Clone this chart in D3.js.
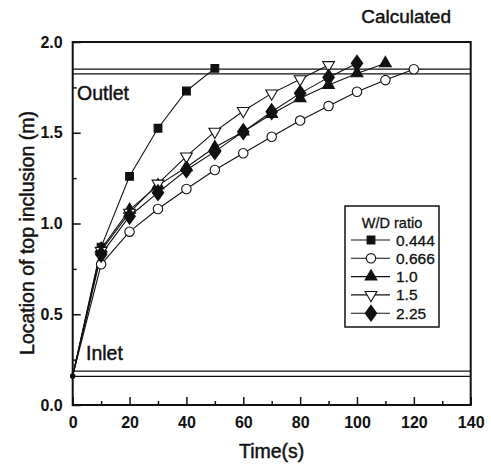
<!DOCTYPE html>
<html>
<head>
<meta charset="utf-8">
<script src="https://cdn.jsdelivr.net/npm/d3@7"></script>
<style>
  body { margin: 0; background: #fff; }
  text { font-family: "Liberation Sans", Arial, sans-serif; fill: #111; }
</style>
</head>
<body>
<div id="container"></div>
<script>
let w = 491;
let h = 466;
let margin = {left: 72.7, right: 20.3, top: 42, bottom: 61};

// data
let times = [0, 10, 20, 30, 40, 50, 60, 70, 80, 90, 100, 110, 120];
let ratios = ["0.444", "0.666", "1.0", "1.5", "2.25"];
let symbols = ["square", "circle", "triangle", "triangleDown", "diamond"];
let loc0444 = [0.16, 0.87, 1.26, 1.525, 1.73, 1.855];
let loc0666 = [0.16, 0.775, 0.955, 1.08, 1.19, 1.295, 1.387, 1.478, 1.567, 1.647, 1.726, 1.79, 1.85];
let loc10   = [0.16, 0.86, 1.075, 1.21, 1.31, 1.42, 1.506, 1.603, 1.69, 1.763, 1.827, 1.883];
let loc15   = [0.16, 0.85, 1.06, 1.22, 1.37, 1.506, 1.62, 1.717, 1.795, 1.873];
let loc225  = [0.16, 0.83, 1.04, 1.17, 1.295, 1.396, 1.506, 1.616, 1.717, 1.805, 1.883];
let allSeries = [loc0444, loc0666, loc10, loc15, loc225];
let outletLines = [1.851, 1.824];
let inletLines = [0.187, 0.158];
let xTicks = [0, 20, 40, 60, 80, 100, 120, 140];
let yTicks = [0.0, 0.5, 1.0, 1.5, 2.0];

let viz = d3.select("#container")
  .append("svg")
    .attr("width", w)
    .attr("height", h)
;

let xScale = d3.scaleLinear().domain([0, 140]).range([margin.left, w - margin.right]);
let yScale = d3.scaleLinear().domain([0, 2.0]).range([h - margin.bottom, margin.top]);

// frame
viz.append("rect")
  .attr("x", xScale(0))
  .attr("y", yScale(2))
  .attr("width", xScale(140) - xScale(0))
  .attr("height", yScale(0) - yScale(2))
  .attr("fill", "none")
  .attr("stroke", "#111")
  .attr("stroke-width", 2)
;

// inward ticks, major + minor
let xAxis = d3.axisBottom(xScale).tickValues(xTicks).tickSizeInner(-8).tickSizeOuter(0).tickPadding(12).tickFormat(d3.format("d"));
let xMinor = d3.axisBottom(xScale).tickValues(d3.range(10, 140, 20)).tickSize(-4).tickFormat("");
let yAxis = d3.axisLeft(yScale).tickValues(yTicks).tickSizeInner(-8).tickSizeOuter(0).tickPadding(10).tickFormat(d3.format(".1f"));
let yMinor = d3.axisLeft(yScale).tickValues([0.25, 0.75, 1.25, 1.75]).tickSize(-4).tickFormat("");

let xg = viz.append("g").attr("transform", "translate(0," + yScale(0) + ")").call(xAxis);
viz.append("g").attr("transform", "translate(0," + yScale(0) + ")").call(xMinor);
let yg = viz.append("g").attr("transform", "translate(" + xScale(0) + ",0)").call(yAxis);
viz.append("g").attr("transform", "translate(" + xScale(0) + ",0)").call(yMinor);
viz.selectAll(".domain").remove();
viz.selectAll(".tick line").attr("stroke", "#111").attr("stroke-width", 1.5);
xg.selectAll("text").attr("font-size", 16).attr("font-weight", "bold").attr("fill", "#111");
yg.selectAll("text").attr("font-size", 16).attr("font-weight", "bold").attr("fill", "#111");

// axis titles (regular weight, slightly thickened like the scan)
function label(sel, size) {
  return sel.attr("font-size", size).attr("stroke", "#111").attr("stroke-width", 0.45);
}
label(viz.append("text"), 19.5)
  .attr("x", xScale(70))
  .attr("y", 458)
  .attr("text-anchor", "middle")
  .text("Time(s)");
label(viz.append("text"), 19.5)
  .attr("transform", "translate(34,233) rotate(-90)")
  .attr("text-anchor", "middle")
  .text("Location of top inclusion (m)");

label(viz.append("text"), 19)
  .attr("x", 451)
  .attr("y", 23)
  .attr("text-anchor", "end")
  .text("Calculated");

// outlet / inlet reference lines
viz.selectAll(".refline")
  .data(outletLines.concat(inletLines))
  .enter()
  .append("line")
    .attr("x1", xScale(0))
    .attr("x2", xScale(140))
    .attr("y1", d => yScale(d))
    .attr("y2", d => yScale(d))
    .attr("stroke", "#111")
    .attr("stroke-width", 1.2)
;
label(viz.append("text"), 19.5).attr("x", 77).attr("y", 100).text("Outlet");
label(viz.append("text"), 19.5).attr("x", 86).attr("y", 360).text("Inlet");

let symbolType = {
  square: d3.symbolSquare,
  circle: d3.symbolCircle,
  triangle: d3.symbolTriangle,
  triangleDown: d3.symbolTriangle,
  diamond: d3.symbolDiamond
};
let symbolSize = {square: 60, circle: 70, triangle: 60, triangleDown: 60, diamond: 70};

function drawMarker(g, sym) {
  let p = g.append("path")
    .attr("d", d3.symbol().type(symbolType[sym]).size(symbolSize[sym])())
    .attr("stroke", "#111")
    .attr("stroke-width", 1.1)
    .attr("fill", (sym == "circle" || sym == "triangleDown") ? "#fff" : "#111");
  if (sym == "triangleDown") p.attr("transform", "rotate(180)");
  if (sym == "diamond") p.attr("transform", "scale(1.25,1)");
  return p;
}

let line = d3.line()
  .x((d, i) => xScale(times[i]))
  .y(d => yScale(d));

let graphGroup = viz.append("g").classed("graphGroup", true);
allSeries.forEach(function(vals, k){
  graphGroup.append("path")
    .attr("d", line(vals))
    .attr("fill", "none")
    .attr("stroke", "#111")
    .attr("stroke-width", 1.1);
});
allSeries.forEach(function(vals, k){
  vals.forEach(function(v, i){
    let g = graphGroup.append("g").attr("transform", "translate(" + xScale(times[i]) + "," + yScale(v) + ")");
    if (i == 0) {
      // start points sit on the frame: only a small blob is visible
      g.append("circle").attr("r", 2.5).attr("fill", "#111");
    } else {
      drawMarker(g, symbols[k]);
    }
  });
});

// legend
let legend = viz.append("g").attr("transform", "translate(345,206)");
legend.append("rect")
  .attr("width", 94).attr("height", 121)
  .attr("fill", "#fff").attr("stroke", "#111").attr("stroke-width", 1.5);
legend.append("text")
  .attr("x", 47).attr("y", 22)
  .attr("text-anchor", "middle")
  .attr("font-size", 14.5)
  .attr("stroke", "#111").attr("stroke-width", 0.3)
  .text("W/D ratio");
ratios.forEach(function(r, k){
  let yy = 34 + k * 18.3;
  legend.append("line").attr("x1", 6).attr("x2", 45).attr("y1", yy).attr("y2", yy)
    .attr("stroke", "#111").attr("stroke-width", 1.1);
  let g = legend.append("g").attr("transform", "translate(26," + yy + ")");
  drawMarker(g, symbols[k]);
  legend.append("text").attr("x", 51).attr("y", yy + 5.5).attr("font-size", 15.5)
    .attr("stroke", "#111").attr("stroke-width", 0.3).text(r);
});
</script>
</body>
</html>
